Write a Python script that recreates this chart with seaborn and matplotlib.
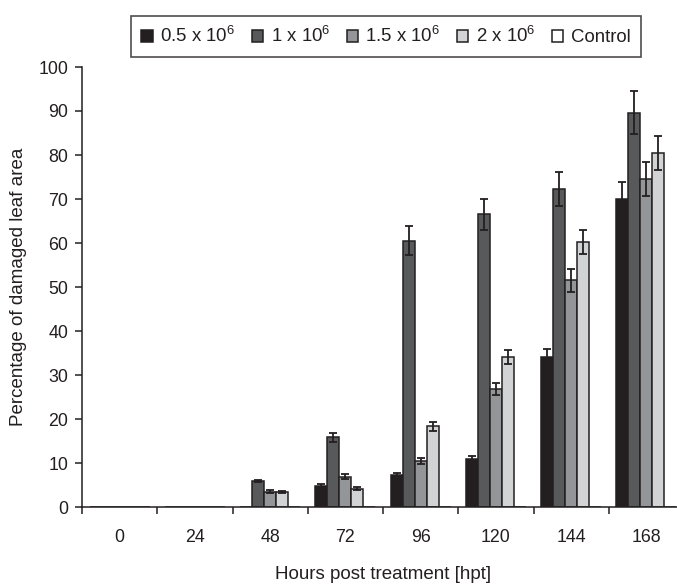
import numpy as np
import pandas as pd
import matplotlib
matplotlib.use("Agg")
import matplotlib.pyplot as plt
import seaborn as sns

# ---- data ----
hours = ["0", "24", "48", "72", "96", "120", "144", "168"]
series = ["0.5 x 10$^6$", "1 x 10$^6$", "1.5 x 10$^6$", "2 x 10$^6$", "Control"]
v_05 = [0, 0, 0, 4.8, 7.2, 10.9, 34.0, 70.0]
v_1 = [0, 0, 5.9, 15.8, 60.5, 66.5, 72.3, 89.6]
v_15 = [0, 0, 3.5, 6.9, 10.5, 26.8, 51.5, 74.5]
v_2 = [0, 0, 3.4, 4.2, 18.3, 34.1, 60.2, 80.4]
v_ctrl = [0, 0, 0, 0, 0, 0, 0, 0]
e_05 = [0, 0, 0, 0.5, 0.5, 0.7, 1.8, 3.8]
e_1 = [0, 0, 0.3, 1.0, 3.3, 3.6, 3.9, 4.9]
e_15 = [0, 0, 0.3, 0.5, 0.7, 1.3, 2.7, 3.8]
e_2 = [0, 0, 0.3, 0.3, 1.1, 1.6, 2.8, 3.9]
e_ctrl = [0, 0, 0, 0, 0, 0, 0, 0]
colors = ["#231f20", "#58595b", "#939598", "#d1d3d4", "#ffffff"]

values = [v_05, v_1, v_15, v_2, v_ctrl]
errors = [e_05, e_1, e_15, e_2, e_ctrl]

rows = []
for s, vals in zip(series, values):
    for h, v in zip(hours, vals):
        rows.append({"hour": h, "series": s, "value": v})
df = pd.DataFrame(rows)

sns.set_style("white")
plt.rcParams["font.family"] = ["Liberation Sans", "DejaVu Sans"]
plt.rcParams["mathtext.fontset"] = "custom"
plt.rcParams["mathtext.rm"] = "Liberation Sans"
plt.rcParams["mathtext.it"] = "Liberation Sans"

fig = plt.figure(figsize=(6.77, 5.85), dpi=100)
ax = fig.add_axes([82 / 677, 78 / 585, (684 - 82) / 677, (507 - 67) / 585])

sns.barplot(data=df, x="hour", y="value", hue="series", order=hours,
            hue_order=series, palette=colors, errorbar=None, width=0.8,
            edgecolor="#231f20", linewidth=1.1, saturation=1, ax=ax,
            legend=True)

for cont, errs in zip(ax.containers, errors):
    xs, ys, es = [], [], []
    for bar, e in zip(cont.patches, errs):
        if e > 0:
            xs.append(bar.get_x() + bar.get_width() / 2)
            ys.append(bar.get_height())
            es.append(e)
    if xs:
        ax.errorbar(xs, ys, yerr=es, fmt="none", ecolor="#231f20",
                    elinewidth=1.3, capsize=3, capthick=1.3, zorder=5)

ax.set_ylim(0, 100)
ax.set_xlim(-0.5, 7.5)
ax.set_yticks(np.arange(0, 101, 10))
ax.set_xticks(np.arange(-0.5, 8, 1))
ax.set_xticklabels([])
ax.set_xticks(np.arange(0, 8), minor=True)
ax.set_xticklabels(hours, minor=True)
ax.tick_params(axis="x", which="major", direction="out", length=5, width=1.1,
               color="#231f20", bottom=True)
ax.tick_params(axis="x", which="minor", length=0, pad=16, labelsize=12.8,
               labelcolor="#231f20")
ax.tick_params(axis="y", direction="out", length=5, width=1.1, color="#231f20",
               left=True, labelsize=12.8, labelcolor="#231f20", pad=5)

for s in ["top", "right"]:
    ax.spines[s].set_visible(False)
for s in ["left", "bottom"]:
    ax.spines[s].set_color("#231f20")
    ax.spines[s].set_linewidth(1.1)

ax.set_xlabel("Hours post treatment [hpt]", fontsize=13.5, color="#231f20")
ax.xaxis.set_label_coords(0.5, -(566 - 507) / 440)
ax.set_ylabel("Percentage of damaged leaf area", fontsize=13.5,
              color="#231f20")
ax.yaxis.set_label_coords(-(82 - 27) / 602, 0.5)

handles, labels = ax.get_legend_handles_labels()
ax.get_legend().remove()
leg = fig.legend(handles, labels, loc="upper center",
                 bbox_to_anchor=(386 / 677, 1 - 16 / 585), ncol=5,
                 fontsize=13.4, frameon=True, fancybox=False,
                 handlelength=0.6, handleheight=0.6, handletextpad=0.4,
                 columnspacing=0.9, borderpad=0.55, borderaxespad=0)
leg.get_frame().set_edgecolor("#231f20")
leg.get_frame().set_linewidth(1.2)
for t in leg.get_texts():
    t.set_color("#231f20")

fig.savefig("out.png", dpi=100)
